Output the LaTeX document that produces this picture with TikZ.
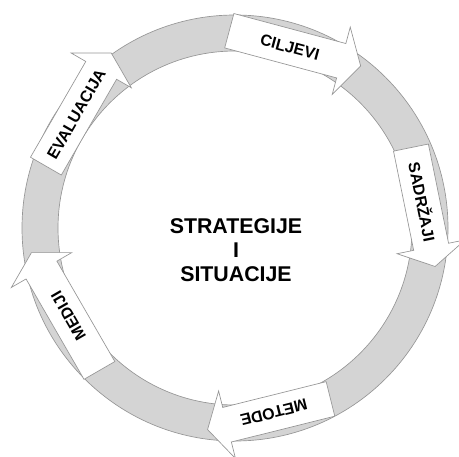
\documentclass[tikz,border=0pt]{standalone}
\usepackage{fontspec}
\setmainfont{Liberation Sans}
\usetikzlibrary{shapes.arrows}

\definecolor{ringgray}{RGB}{212,212,212}
\definecolor{edgegray}{RGB}{150,150,150}

\tikzset{every picture/.style={line width=0.75pt}}
\tikzset{
  ring/.style={draw=edgegray, line width=0.5pt, fill=ringgray, even odd rule},
  stage/.style={single arrow, draw=edgegray, line width=0.5pt, fill=white,
    single arrow head extend=12.75pt, single arrow tip angle=120,
    minimum height=#1, minimum width=0pt, text height=9pt, text depth=0pt,
    inner ysep=8.6pt, inner xsep=2pt, font=\fontsize{12}{14}\selectfont\bfseries},
  core/.style={align=center, font=\fontsize{16}{18}\selectfont\bfseries}
}

\begin{document}
\begin{tikzpicture}[x=0.75pt,y=0.75pt,yscale=-1,xscale=1]
\useasboundingbox (0,0) rectangle (459,456);

%Shape: Ring [id:hub]
\coordinate (hub) at (235,228);
\draw [ring] (hub) circle (213) (hub) circle (177);

% Arrow Nodes
\node [stage=102pt, rotate=-15] (ciljevi) at (290,47) {CILJEVI};
\node [stage=91pt, rotate=-78.5] (sadrzaji) at (422,202) {SADRŽAJI};
\node [stage=95pt, rotate=194] (metode) at (274,413) {METODE};
\node [stage=102pt, rotate=120] (mediji) at (68,316) {MEDIJI};
\node [stage=98pt, rotate=60] (evaluacija) at (76,114) {EVALUACIJA};

% Text Node
\node [core] (strategije) at (236,250) {STRATEGIJE\\I\\SITUACIJE};
\end{tikzpicture}
\end{document}
